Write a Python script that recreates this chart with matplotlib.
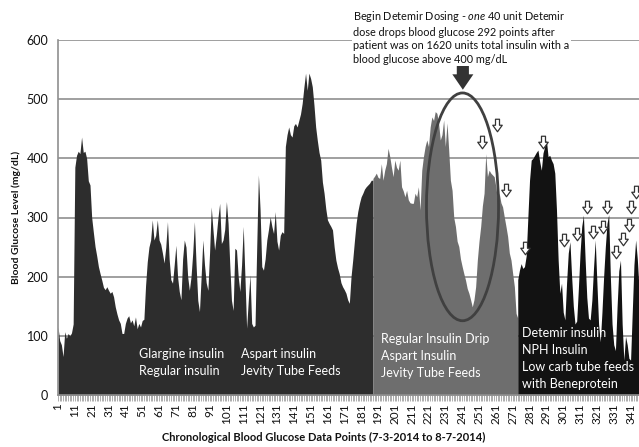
import matplotlib.pyplot as plt
import numpy as np
from matplotlib.patches import Ellipse, FancyArrow
from matplotlib.path import Path

plt.rcParams["font.family"] = ["Lato", "DejaVu Sans"]
plt.rcParams["mathtext.fontset"] = "custom"
plt.rcParams["mathtext.it"] = "Lato:italic"
plt.rcParams["mathtext.rm"] = "Lato"

# ── Data ──────────────────────────────────────────────────────────────────────
# blood glucose (mg/dL), one reading per chronological data point
BG_PRE = [  # points 1-188: glargine/regular, then aspart + Jevity feeds
    115, 92, 85, 65, 107, 96, 104, 100, 105, 120,
    385, 405, 412, 408, 436, 410, 412, 400, 362, 355,
    300, 275, 251, 235, 217, 205, 194, 182, 178, 183,
    177, 172, 175, 166, 149, 137, 127, 121, 104, 104,
    121, 130, 134, 122, 127, 117, 132, 112, 121, 115,
    126, 128, 185, 225, 250, 262, 296, 262, 270, 296,
    262, 255, 240, 223, 250, 293, 230, 195, 189, 220,
    253, 200, 175, 161, 230, 262, 250, 200, 177, 200,
    240, 293, 220, 160, 141, 200, 262, 220, 190, 177,
    240, 318, 280, 245, 270, 300, 324, 256, 262, 280,
    327, 290, 220, 160, 143, 248, 245, 200, 175, 220,
    285, 200, 113, 160, 203, 121, 115, 118, 250, 372,
    313, 217, 211, 230, 262, 280, 301, 285, 273, 310,
    260, 245, 270, 276, 273, 420, 440, 453, 440, 436,
    455, 459, 453, 464, 475, 493, 520, 544, 515, 544,
    535, 521, 490, 453, 430, 410, 397, 360, 341, 315,
    296, 290, 285, 279, 250, 228, 215, 205, 190, 183,
    178, 172, 161, 155, 200, 228, 260, 290, 310, 324,
    335, 341, 348, 352, 355, 358, 363, 363,
]
BG_DRIP = [  # points 188-274: regular insulin drip
    366, 370, 375, 368, 366, 391, 363, 380, 391, 417,
    403, 385, 369, 397, 385, 380, 397, 352, 345, 335,
    346, 330, 325, 324, 324, 341, 335, 352, 313, 380,
    403, 420, 431, 420, 453, 470, 464, 479, 476, 459,
    431, 440, 465, 420, 460, 414, 363, 346, 300, 285,
    260, 251, 230, 217, 205, 194, 180, 172, 161, 149,
    161, 183, 228, 260, 285, 320, 341, 408, 369, 380,
    375, 372, 369, 352, 330, 341, 325, 318, 301, 285,
    268, 240, 228, 205, 183, 138, 130,
]
BG_DET = [  # points 274-346: detemir + NPH
    195, 211, 222, 214, 217, 235, 300, 363, 397, 400,
    405, 410, 414, 395, 380, 409, 420, 431, 403, 405,
    397, 391, 375, 313, 228, 172, 189, 140, 127, 190,
    240, 259, 200, 150, 120, 125, 180, 240, 285, 304,
    230, 165, 130, 127, 160, 215, 262, 190, 120, 90,
    140, 200, 250, 290, 305, 200, 120, 85, 75, 150,
    210, 228, 120, 59, 99, 85, 62, 59, 140, 220,
    262, 230, 180,
]
START_PRE, START_DRIP, START_DET = 1, 188, 274

# small white arrows marking detemir doses (data point, mg/dL)
ARROW_X = [252.9, 261.4, 266.8, 289.2, 278.2, 301.4, 309.4, 314.9,
           318.7, 324.6, 326.8, 332.2, 336.5, 340.1, 341.5, 344.0]
ARROW_Y = [428, 456, 346, 428, 249, 262, 272, 317,
           275, 284, 317, 242, 264, 287, 317, 343]

SERIES = [
    (START_PRE, BG_PRE, "#2d2d2d"),
    (START_DRIP, BG_DRIP, "#6e6e6e"),
    (START_DET, BG_DET, "#121212"),
]

# ── Figure ────────────────────────────────────────────────────────────────────
fig = plt.figure(figsize=(6.39, 4.47), dpi=100)
ax = fig.add_axes([58 / 639, 52 / 447, 581 / 639, 355 / 447])

for start, vals, color in SERIES:
    x = np.arange(start, start + len(vals))
    ax.fill_between(x, 0, vals, color=color, lw=0, zorder=2)

n_last = START_DET + len(BG_DET) - 1
ax.set_xlim(1, n_last)
ax.set_ylim(0, 600)

# gridlines / spines
ax.set_yticks(range(0, 601, 100))
ax.yaxis.grid(True, color="#8f8f8f", lw=1.2, zorder=1)
ax.set_axisbelow(True)
for side in ("top", "right"):
    ax.spines[side].set_visible(False)
for side in ("left", "bottom"):
    ax.spines[side].set_color("#8f8f8f")
    ax.spines[side].set_linewidth(1.2)
ax.spines["bottom"].set_zorder(3)
ax.tick_params(axis="y", length=0, pad=7, labelsize=9, labelcolor="#111")

ax.set_xticks(range(1, n_last + 1, 10))
ax.set_xticks(range(1, n_last + 1), minor=True)
ax.tick_params(axis="x", which="both", length=4, color="#a0a0a0", width=0.6)
ax.tick_params(axis="x", which="major", labelrotation=90, labelsize=8.5,
               pad=2, labelcolor="#111")

# ── Annotations ───────────────────────────────────────────────────────────────
ax.add_patch(Ellipse((241.2, 318), 42.8, 385, fill=False,
                     ec="#404040", lw=2.0, zorder=4))
ax.add_patch(FancyArrow(241.4, 563, 0, -47, width=7.2, head_width=12.5,
                        head_length=26, length_includes_head=True,
                        color="#333333", lw=0, zorder=5, clip_on=False))

arrow_marker = Path([(-0.16, 0.5), (0.16, 0.5), (0.16, 0.02), (0.38, 0.02),
                     (0.0, -0.5), (-0.38, 0.02), (-0.16, 0.02), (-0.16, 0.5)],
                    closed=True)
ax.plot(ARROW_X, ARROW_Y, ls="none", marker=arrow_marker, ms=9,
        mfc="white", mec="#333333", mew=0.9, zorder=6, clip_on=False)

txt_kw = dict(color="white", fontsize=9, linespacing=1.5, va="center",
              ha="left", zorder=7)
ax.text(49.2, 55, "Glargine insulin\nRegular insulin", **txt_kw)
ax.text(109.6, 55, "Aspart insulin\nJevity Tube Feeds", **txt_kw)
ax.text(193, 66, "Regular Insulin Drip\nAspart Insulin\nJevity Tube Feeds",
        **txt_kw)
ax.text(276.3, 61, "Detemir insulin\nNPH Insulin\nLow carb tube feeds\n"
        "with Beneprotein", **txt_kw)

fig.text(353 / 639, 1 - 37 / 447,
         "Begin Detemir Dosing - $\\it{one}$ 40 unit Detemir\n"
         "dose drops blood glucose 292 points after\n"
         "patient was on 1620 units total insulin with a\n"
         "blood glucose above 400 mg/dL",
         fontsize=7.8, linespacing=1.3, va="center", ha="left", color="#111",
         bbox=dict(fc="white", ec="none", pad=1), zorder=8)

fig.text(324 / 639, 1 - 437 / 447,
         "Chronological Blood Glucose Data Points (7-3-2014 to 8-7-2014)",
         fontsize=8, fontweight="bold", ha="center", va="center", color="#111")
fig.text(16 / 639, 1 - 217 / 447, "Blood Glucose Level (mg/dL)",
         fontsize=7.5, fontweight="bold", rotation=90, ha="center",
         va="center", color="#111")

fig.savefig("out.png", dpi=100)
